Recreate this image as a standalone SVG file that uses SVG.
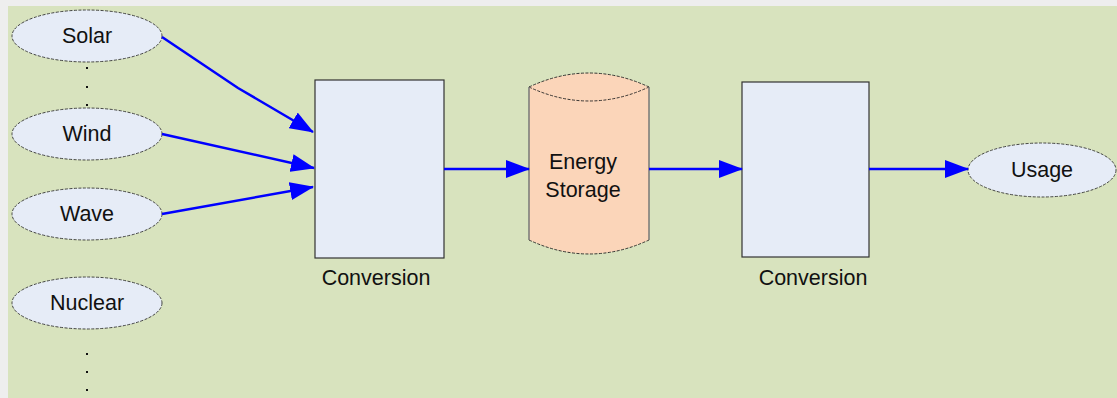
<svg xmlns="http://www.w3.org/2000/svg" width="1117" height="398" viewBox="0 0 1117 398">
<defs>
<style>
.bg{fill:#eeeeee}
.panel{fill:#d8e3be}
.oval{fill:#e6ecf7;stroke:#333;stroke-width:0.9;stroke-dasharray:3 1.5}
.box{fill:#e6ecf7;stroke:#333;stroke-width:1.2}
.cyl{fill:#fbd5b9;stroke:none}
.cylside{stroke:#777;stroke-width:1.5;fill:none}
.cylarc{stroke:#222;stroke-width:0.9;fill:none;stroke-dasharray:3 1.5}
.t{font-family:"Liberation Sans",Arial,sans-serif;font-size:21.5px;fill:#111;text-anchor:middle}
.dot{fill:#111}
.edge{stroke:#0000ff;stroke-width:2.5;fill:none;marker-end:url(#ah)}
</style>
<marker id="ah" viewBox="0 0 24 18" refX="23" refY="9" markerWidth="24" markerHeight="18" markerUnits="userSpaceOnUse" orient="auto">
<path d="M0,0 L24,9 L0,18 Z" fill="#0000ff"/>
</marker>
</defs>
<rect class="bg" x="0" y="0" width="1117" height="398"/>
<rect class="panel" x="8" y="6" width="1109" height="392"/>

<g id="solar"><ellipse class="oval" cx="87" cy="36" rx="75" ry="26"/><text class="t" x="87" y="43">Solar</text></g>
<g id="dots-top"><rect class="dot" x="86" y="67" width="2" height="2"/><rect class="dot" x="86" y="86" width="2" height="2"/><rect class="dot" x="86" y="104" width="2" height="2"/></g>
<g id="wind"><ellipse class="oval" cx="87" cy="134" rx="75" ry="26"/><text class="t" x="87" y="141">Wind</text></g>
<g id="wave"><ellipse class="oval" cx="87" cy="214" rx="75" ry="26"/><text class="t" x="87" y="221">Wave</text></g>
<g id="nuclear"><ellipse class="oval" cx="87" cy="303" rx="75" ry="26"/><text class="t" x="87" y="310">Nuclear</text></g>
<g id="dots-bottom"><rect class="dot" x="86" y="353" width="2" height="2"/><rect class="dot" x="86" y="371" width="2" height="2"/><rect class="dot" x="86" y="389" width="2" height="2"/></g>

<g id="conversion1"><rect class="box" x="315" y="80" width="129" height="178"/><text class="t" x="376" y="285">Conversion</text></g>

<g id="storage">
<path class="cyl" d="M529,87 Q589,59 649,87 L649,240 Q589,268 529,240 Z"/>
<path class="cylarc" d="M529,87 Q589,59 649,87"/>
<path class="cylarc" d="M529,87 Q589,115 649,87"/>
<path class="cylarc" d="M529,240 Q589,268 649,240"/>
<line class="cylside" x1="529" y1="87" x2="529" y2="240"/>
<line class="cylside" x1="649" y1="87" x2="649" y2="240"/>
<text class="t" x="583" y="169">Energy</text>
<text class="t" x="583" y="197">Storage</text>
</g>

<g id="conversion2"><rect class="box" x="742" y="82" width="127" height="175"/><text class="t" x="813" y="285">Conversion</text></g>

<g id="usage"><ellipse class="oval" cx="1042" cy="170" rx="74" ry="27"/><text class="t" x="1042" y="177">Usage</text></g>

<g id="connectors">
<path class="edge" d="M162,37 L238,88 L313,132"/>
<path class="edge" d="M162,134 L314,168"/>
<path class="edge" d="M162,214 L313,187"/>
<path class="edge" d="M444,169 L529,169"/>
<path class="edge" d="M649,169 L742,169"/>
<path class="edge" d="M869,169 L968,169"/>
</g>
</svg>
